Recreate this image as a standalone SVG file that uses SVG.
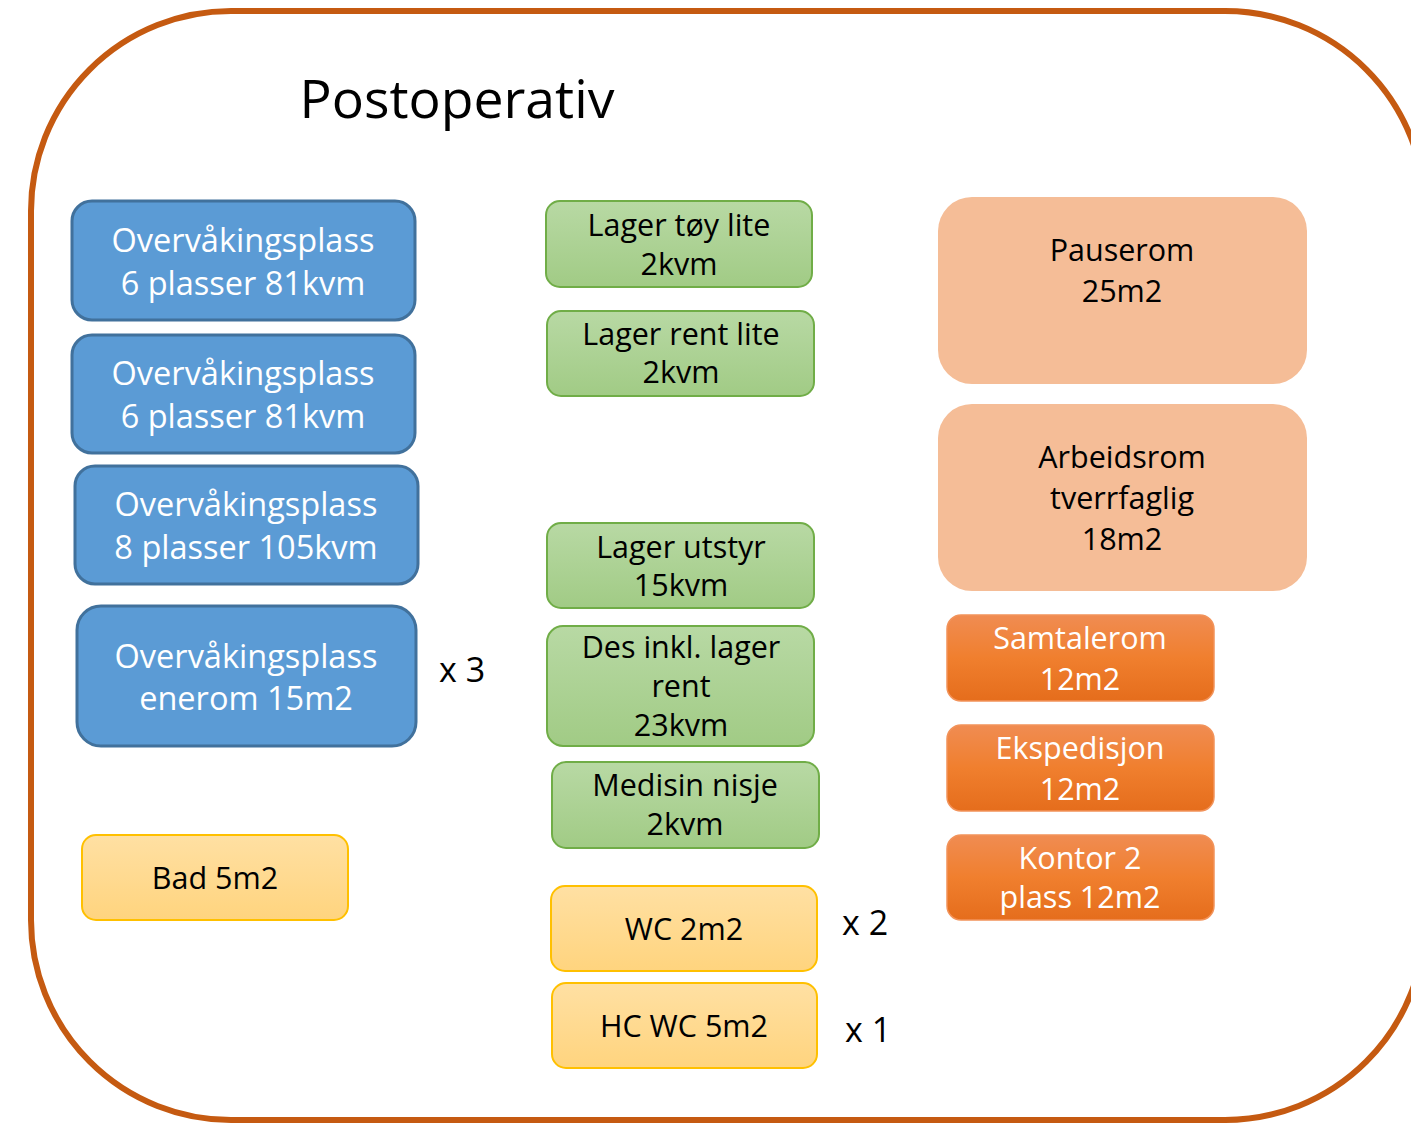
<svg xmlns="http://www.w3.org/2000/svg" width="1411" height="1124" viewBox="0 0 1411 1124">
<defs>
<linearGradient id="gGreen" x1="0" y1="0" x2="0" y2="1"><stop offset="0" stop-color="#B8D9A4"/><stop offset="1" stop-color="#A1CB85"/></linearGradient>
<linearGradient id="gYellow" x1="0" y1="0" x2="0" y2="1"><stop offset="0" stop-color="#FFE0A3"/><stop offset="1" stop-color="#FFD47E"/></linearGradient>
<linearGradient id="gOrange" x1="0" y1="0" x2="0" y2="1"><stop offset="0" stop-color="#F08C52"/><stop offset="0.5" stop-color="#F07F2E"/><stop offset="1" stop-color="#E56D1C"/></linearGradient>
<style>
text{font-family:"Open Sans","Liberation Sans",sans-serif;text-anchor:middle}
.blue{fill:#5B9BD5;stroke:#41719C;stroke-width:3}
.green{fill:url(#gGreen);stroke:#70AD47;stroke-width:2}
.yellow{fill:url(#gYellow);stroke:#FFC000;stroke-width:2}
.lorange{fill:#F5BD97}
.orange{fill:url(#gOrange);stroke:#F2935A;stroke-width:1.5}
.tw{fill:#FFFFFF;font-size:32.5px}
.tb{fill:#000000;font-size:30.5px}
.tw2{fill:#FFFFFF;font-size:30.5px}
.mult{fill:#000000;font-size:34px;text-anchor:start}
</style>
</defs>
<rect width="1411" height="1124" fill="#FFFFFF"/>
<rect id="frame" x="31" y="11" width="1394" height="1109" rx="200" ry="200" fill="none" stroke="#C55A11" stroke-width="6"/>
<text x="457" y="118" style="font-size:53.5px;fill:#000">Postoperativ</text>

<g id="ov1"><rect class="blue" x="72" y="201" width="343" height="119" rx="20"/><text class="tw" x="243" y="252">Overvåkingsplass</text><text class="tw" x="243" y="295">6 plasser 81kvm</text></g>
<g id="ov2"><rect class="blue" x="72" y="335" width="343" height="118" rx="20"/><text class="tw" x="243" y="385">Overvåkingsplass</text><text class="tw" x="243" y="428">6 plasser 81kvm</text></g>
<g id="ov3"><rect class="blue" x="75" y="466" width="343" height="118" rx="20"/><text class="tw" x="246" y="516">Overvåkingsplass</text><text class="tw" x="246" y="559">8 plasser 105kvm</text></g>
<g id="ov4"><rect class="blue" x="77" y="606" width="339" height="140" rx="24"/><text class="tw" x="246" y="668">Overvåkingsplass</text><text class="tw" x="246" y="710">enerom 15m2</text></g>
<text class="mult" x="439" y="682">x 3</text>

<g id="bad"><rect class="yellow" x="82" y="835" width="266" height="85" rx="14"/><text class="tb" x="215" y="889">Bad 5m2</text></g>

<g id="g1"><rect class="green" x="546" y="201" width="266" height="86" rx="14"/><text class="tb" x="679" y="236">Lager tøy lite</text><text class="tb" x="679" y="275">2kvm</text></g>
<g id="g2"><rect class="green" x="547" y="311" width="267" height="85" rx="14"/><text class="tb" x="681" y="345">Lager rent lite</text><text class="tb" x="681" y="383">2kvm</text></g>
<g id="g3"><rect class="green" x="547" y="523" width="267" height="85" rx="14"/><text class="tb" x="681" y="558">Lager utstyr</text><text class="tb" x="681" y="596">15kvm</text></g>
<g id="g4"><rect class="green" x="547" y="626" width="267" height="120" rx="16"/><text class="tb" x="681" y="658">Des inkl. lager</text><text class="tb" x="681" y="697">rent</text><text class="tb" x="681" y="736">23kvm</text></g>
<g id="g5"><rect class="green" x="552" y="762" width="267" height="86" rx="14"/><text class="tb" x="685" y="796">Medisin nisje</text><text class="tb" x="685" y="835">2kvm</text></g>

<g id="wc"><rect class="yellow" x="551" y="886" width="266" height="85" rx="14"/><text class="tb" x="684" y="940">WC 2m2</text></g>
<text class="mult" x="842" y="935">x 2</text>
<g id="hcwc"><rect class="yellow" x="552" y="983" width="265" height="85" rx="14"/><text class="tb" x="684" y="1037">HC WC 5m2</text></g>
<text class="mult" x="845" y="1042">x 1</text>

<g id="pause"><rect class="lorange" x="938" y="197" width="369" height="187" rx="34"/><text class="tb" x="1122" y="261">Pauserom</text><text class="tb" x="1122" y="302">25m2</text></g>
<g id="arbeid"><rect class="lorange" x="938" y="404" width="369" height="187" rx="34"/><text class="tb" x="1122" y="468">Arbeidsrom</text><text class="tb" x="1122" y="509">tverrfaglig</text><text class="tb" x="1122" y="550">18m2</text></g>
<g id="samtale"><rect class="orange" x="947" y="615" width="267" height="86" rx="14"/><text class="tw2" x="1080" y="649">Samtalerom</text><text class="tw2" x="1080" y="690">12m2</text></g>
<g id="eksp"><rect class="orange" x="947" y="725" width="267" height="86" rx="14"/><text class="tw2" x="1080" y="759">Ekspedisjon</text><text class="tw2" x="1080" y="800">12m2</text></g>
<g id="kontor"><rect class="orange" x="947" y="835" width="267" height="85" rx="14"/><text class="tw2" x="1080" y="869">Kontor 2</text><text class="tw2" x="1080" y="908">plass 12m2</text></g>
<g id="connectors"></g>
</svg>
